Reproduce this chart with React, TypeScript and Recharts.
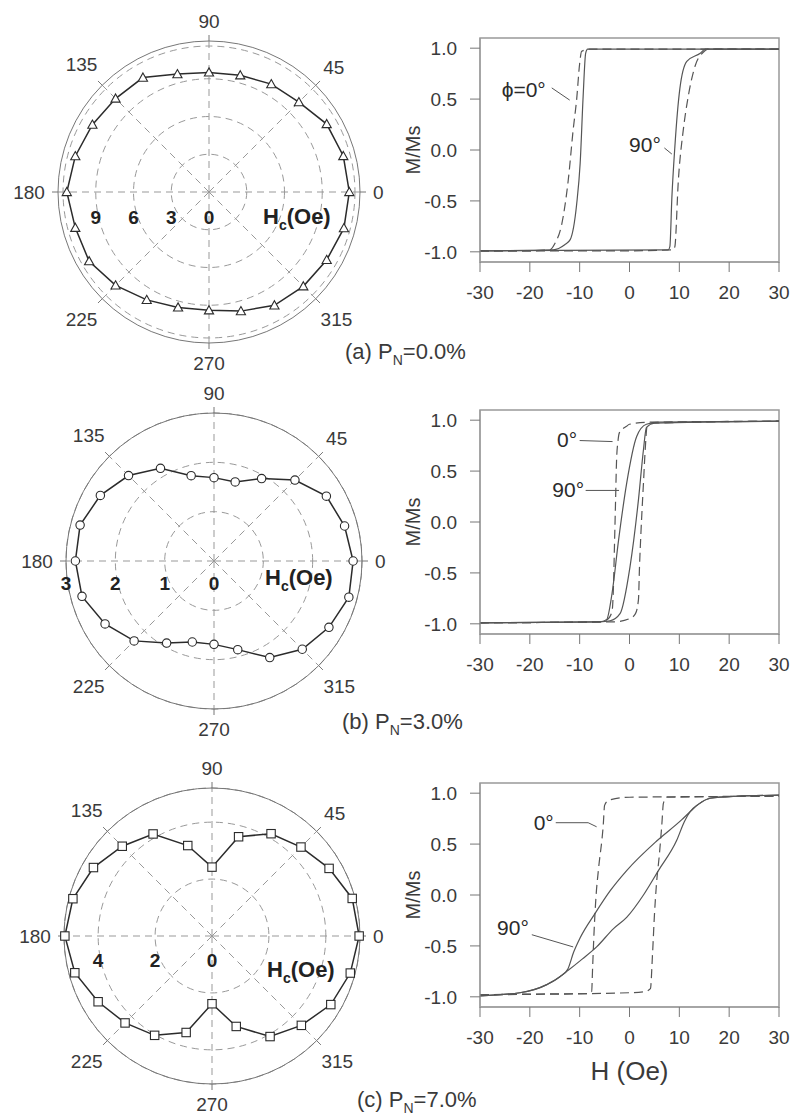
import React from "react";
import {
  RadarChart,
  Radar,
  PolarGrid,
  PolarAngleAxis,
  PolarRadiusAxis,
  LineChart,
  Line,
  XAxis,
  YAxis,
  ReferenceArea,
  ReferenceLine,
  ReferenceDot,
} from "recharts";

const FONT = '"Liberation Sans", Arial, Helvetica, sans-serif';
const INK = "#3a3a3a";

// field angle (deg) for the polar Hc plots
const ANGLES = [0, 15, 30, 45, 60, 75, 90, 105, 120, 135, 150, 165, 180, 195, 210, 225, 240, 255, 270, 285, 300, 315, 330, 345];
const ANGLE_TICKS = [0, 45, 90, 135, 180, 225, 270, 315];

// Hc (Oe)
const HC_A = [11.15, 11.05, 10.8, 10.1, 9.9, 9.6, 9.5, 9.7, 10.5, 10.5, 10.7, 11.0, 11.3, 11.0, 11.0, 10.5, 9.9, 9.5, 9.4, 9.8, 10.4, 10.6, 10.8, 11.1];
const HC_B = [2.82, 2.74, 2.63, 2.32, 1.93, 1.66, 1.69, 1.79, 2.17, 2.45, 2.66, 2.81, 2.81, 2.77, 2.55, 2.29, 1.92, 1.7, 1.69, 1.86, 2.26, 2.53, 2.69, 2.83];
const HC_C = [5.17, 5.1, 4.75, 4.42, 4.15, 3.61, 2.42, 3.29, 4.14, 4.46, 4.81, 5.06, 5.17, 4.99, 4.62, 4.32, 4.03, 3.51, 2.38, 3.29, 4.08, 4.44, 4.82, 5.03];

const RAD_TICKS_A = [0, 3, 6, 9, 11.6];
const RAD_LABELS_A = [0, 3, 6, 9];
const RAD_TICKS_B = [0, 1, 2, 3];
const RAD_LABELS_B = [0, 1, 2, 3];
const RAD_TICKS_C = [0, 2, 4, 5.2];
const RAD_LABELS_C = [0, 2, 4];

const H_TICKS = [-30, -20, -10, 0, 10, 20, 30];
const M_TICKS = [-1, -0.5, 0, 0.5, 1];

// hysteresis branches, [H (Oe), M/Ms]
const A0_DOWN: [number, number][] = [[-30, -0.99], [-20, -0.99], [-16, -0.98], [-15, -0.92], [-13.6, -0.73], [-12.3, -0.3], [-11.3, 0.2], [-10.6, 0.5], [-10.0, 0.85], [-9.6, 0.97], [-8, 0.99], [0, 0.99], [30, 0.99]];
const A0_UP: [number, number][] = [[-30, -0.99], [0, -0.99], [8.8, -0.98], [9.1, -0.95], [9.8, -0.3], [10.8, 0.2], [11.8, 0.53], [13.2, 0.83], [14.8, 0.96], [15.8, 0.99], [30, 0.99]];
const A90_DOWN: [number, number][] = [[-30, -0.99], [-15.3, -0.98], [-13, -0.93], [-11.9, -0.88], [-10.6, -0.53], [-9.9, -0.13], [-9.3, 0.53], [-8.8, 0.95], [-8.4, 0.99], [30, 0.99]];
const A90_UP: [number, number][] = [[-30, -0.99], [7.8, -0.98], [8.1, -0.95], [8.5, -0.47], [9.1, 0.03], [10.1, 0.6], [11.5, 0.87], [14.2, 0.95], [15.2, 0.99], [30, 0.99]];

const B0_DOWN: [number, number][] = [[-30, -0.99], [-6, -0.98], [-4.5, -0.96], [-3.5, -0.88], [-3.2, -0.6], [-3.0, -0.2], [-2.8, 0.2], [-2.6, 0.6], [-2.3, 0.8], [-2.0, 0.88], [-0.6, 0.94], [0, 0.96], [4, 0.98], [30, 0.99]];
const B0_UP: [number, number][] = [[-30, -0.99], [-3, -0.98], [0, -0.95], [1.2, -0.9], [1.8, -0.76], [2.0, -0.45], [2.3, -0.1], [2.8, 0.38], [3.2, 0.75], [3.5, 0.93], [4.5, 0.97], [30, 0.99]];
const B90_DOWN: [number, number][] = [[-30, -0.99], [-6, -0.98], [-4.6, -0.96], [-3.5, -0.7], [-2.2, -0.18], [-0.57, 0.38], [1.44, 0.84], [3.4, 0.96], [6, 0.98], [30, 0.99]];
const B90_UP: [number, number][] = [[-30, -0.99], [-6, -0.98], [-3.9, -0.97], [-1.9, -0.9], [0.1, -0.44], [1.8, 0.22], [2.8, 0.71], [3.4, 0.93], [5, 0.97], [30, 0.99]];

const C0_DOWN: [number, number][] = [[-30, -0.98], [-10, -0.97], [-8.5, -0.97], [-7.6, -0.95], [-7.4, -0.71], [-7.1, -0.35], [-6.7, 0], [-6.25, 0.24], [-5.25, 0.7], [-5.0, 0.88], [-4.2, 0.93], [0, 0.96], [30, 0.97]];
const C0_UP: [number, number][] = [[-30, -0.98], [0, -0.96], [3, -0.95], [4.2, -0.92], [4.6, -0.6], [5.0, -0.2], [5.4, 0.1], [6.0, 0.4], [6.5, 0.7], [6.8, 0.9], [7.5, 0.96], [30, 0.97]];
const C90_DOWN: [number, number][] = [[-30, -0.99], [-22, -0.96], [-16.6, -0.88], [-13.9, -0.8], [-12.4, -0.73], [-11.2, -0.56], [-9.9, -0.42], [-6.9, -0.18], [-3.9, 0.04], [-0.57, 0.24], [5.45, 0.53], [10.5, 0.74], [12.2, 0.82], [13.8, 0.89], [16.2, 0.95], [21.5, 0.97], [30, 0.98]];
const C90_UP: [number, number][] = [[-30, -0.99], [-22, -0.96], [-16.6, -0.88], [-13.9, -0.8], [-12.3, -0.74], [-9.5, -0.63], [-6.6, -0.51], [-3.2, -0.33], [-0.57, -0.22], [2.8, 0], [5.8, 0.24], [9.5, 0.54], [11.0, 0.72], [12.2, 0.82], [13.8, 0.89], [16.2, 0.95], [21.5, 0.97], [30, 0.98]];

type Marker = "tri" | "circle" | "square";

const dotFor = (kind: Marker) => (p: any) => {
  const { cx, cy, index } = p;
  const common = { fill: "#fff", stroke: "#2b2b2b", strokeWidth: 1.1 };
  if (kind === "circle") return <circle key={index} cx={cx} cy={cy} r={4.2} {...common} />;
  if (kind === "square") return <rect key={index} x={cx - 4.2} y={cy - 4.2} width={8.4} height={8.4} {...common} />;
  return <path key={index} d={`M${cx},${cy - 4.6}L${cx + 4.6},${cy + 3.6}L${cx - 4.6},${cy + 3.6}Z`} {...common} />;
};

const angleTick = (p: any) => {
  const v = p.payload.value;
  if (v >= 360) return <g />;
  const a = (p.payload.coordinate * Math.PI) / 180;
  const c = Math.cos(a);
  const s = Math.sin(a);
  const label = String(v);
  const d = 7 + label.length * 5.3 * Math.abs(c) + 7 * Math.abs(s);
  return (
    <text x={p.x + d * c} y={p.y - d * s} textAnchor="middle" dominantBaseline="central" fontSize={19} fill={INK}>
      {label}
    </text>
  );
};

const radiusTick = (labels: number[], dy: number) => (p: any) => {
  const v = p.payload.value;
  if (!labels.includes(v)) return <g />;
  return (
    <text x={p.x} y={p.y + dy} textAnchor="middle" dominantBaseline="central" fontSize={19} fontWeight="bold" fill="#222">
      {v}
    </text>
  );
};

interface PolarProps {
  top: number;
  cx: number;
  cy: number;
  R: number;
  hc: number[];
  max: number;
  rTicks: number[];
  rLabels: number[];
  labelDy: number;
  marker: Marker;
}

function PolarPanel({ top, cx, cy, R, hc, max, rTicks, rLabels, labelDy, marker }: PolarProps) {
  const rows = ANGLES.map((a, i) => ({ angle: a, hc: hc[i] }));
  return (
    <div style={{ position: "absolute", left: 0, top, width: 400, height: 372 }}>
      <RadarChart
        width={400}
        height={372}
        data={rows}
        cx={cx}
        cy={cy}
        outerRadius={R}
        startAngle={0}
        endAngle={360}
        margin={{ top: 0, right: 0, bottom: 0, left: 0 }}
      >
        <PolarGrid gridType="circle" stroke="#999" strokeDasharray="7 5" />
        <PolarAngleAxis
          dataKey="angle"
          type="number"
          domain={[0, 360]}
          ticks={ANGLE_TICKS}
          axisLineType="circle"
          axisLine={{ stroke: "#777" }}
          tickLine={{ stroke: "#777" }}
          tickSize={6}
          tick={angleTick}
        />
        <PolarRadiusAxis
          angle={180}
          type="number"
          domain={[0, max]}
          ticks={rTicks}
          axisLine={false}
          tickLine={false}
          tick={radiusTick(rLabels, labelDy)}
        />
        <Radar
          dataKey="hc"
          stroke="#2b2b2b"
          strokeWidth={1.5}
          fill="none"
          fillOpacity={0}
          dot={dotFor(marker)}
          isAnimationActive={false}
        />
      </RadarChart>
    </div>
  );
}

interface Note {
  text: string;
  at: [number, number];
  lines: [number, number, number, number][];
}

interface LoopProps {
  top: number;
  dashed: [number, number][][];
  solid: [number, number][][];
  notes: Note[];
  xTitle?: boolean;
}

const toRows = (pts: [number, number][]) => pts.map(([h, m]) => ({ h, m }));

function LoopPanel({ top, dashed, solid, notes, xTitle }: LoopProps) {
  const height = xTitle ? 345 : 320;
  return (
    <div style={{ position: "absolute", left: 400, top, width: 393, height }}>
      <LineChart
        width={393}
        height={height}
        margin={{ top: 38, right: 14, bottom: xTitle ? 8 : 18, left: 0 }}
      >
        <XAxis
          dataKey="h"
          type="number"
          domain={[-30, 30]}
          ticks={H_TICKS}
          height={xTitle ? 75 : 40}
          tickSize={10}
          tickMargin={14}
          axisLine={{ stroke: "#999" }}
          tickLine={{ stroke: "#777" }}
          tick={{ fontSize: 19, fill: INK }}
          label={
            xTitle
              ? { value: "H (Oe)", position: "insideBottom", offset: 2, style: { fontSize: 26, fill: INK } }
              : undefined
          }
        />
        <YAxis
          type="number"
          domain={[-1.1, 1.1]}
          ticks={M_TICKS}
          tickFormatter={(v: number) => v.toFixed(1)}
          width={80}
          tickSize={10}
          tickMargin={13}
          axisLine={{ stroke: "#999" }}
          tickLine={{ stroke: "#777" }}
          tick={{ fontSize: 19, fill: INK }}
          label={{
            value: "M/Ms",
            angle: -90,
            position: "insideLeft",
            offset: 13,
            style: { fontSize: 20, fill: INK, textAnchor: "middle" },
          }}
        />
        <ReferenceArea x1={-30} x2={30} y1={-1.1} y2={1.1} fill="none" stroke="#999" strokeWidth={1.5} />
        {dashed.map((b, i) => (
          <Line
            key={`d${i}`}
            data={toRows(b)}
            dataKey="m"
            type="monotone"
            stroke="#555"
            strokeWidth={1.2}
            strokeDasharray="9 5"
            dot={false}
            isAnimationActive={false}
          />
        ))}
        {solid.map((b, i) => (
          <Line
            key={`s${i}`}
            data={toRows(b)}
            dataKey="m"
            type="monotone"
            stroke="#555"
            strokeWidth={1.2}
            dot={false}
            isAnimationActive={false}
          />
        ))}
        {notes.map((n, i) => (
          <React.Fragment key={`n${i}`}>
            {n.lines.map(([x1, y1, x2, y2], j) => (
              <ReferenceLine
                key={`l${j}`}
                segment={[{ x: x1, y: y1 }, { x: x2, y: y2 }]}
                stroke="#555"
                strokeWidth={1}
              />
            ))}
            <ReferenceDot
              x={n.at[0]}
              y={n.at[1]}
              r={1}
              fill="none"
              stroke="none"
              label={{ value: n.text, position: "left", offset: 3, fontSize: 21, fill: "#2b2b2b" }}
            />
          </React.Fragment>
        ))}
      </LineChart>
    </div>
  );
}

const Caption = ({ left, y, tag, pct }: { left: number; y: number; tag: string; pct: string }) => (
  <div style={{ position: "absolute", left, top: y - 13, fontSize: 22, lineHeight: "26px", color: INK, whiteSpace: "nowrap" }}>
    ({tag}) P<span style={{ fontSize: 14, position: "relative", top: 6 }}>N</span>={pct}%
  </div>
);

const HcLabel = ({ left, y }: { left: number; y: number }) => (
  <div style={{ position: "absolute", left, top: y - 13, fontSize: 22, lineHeight: "26px", fontWeight: "bold", color: "#222", whiteSpace: "nowrap" }}>
    H<span style={{ fontSize: 14, position: "relative", top: 6 }}>c</span>(Oe)
  </div>
);

export default function App() {
  return (
    <div style={{ position: "absolute", left: 0, top: 0, width: 793, height: 1118, background: "#fff", fontFamily: FONT }}>
      <PolarPanel top={0} cx={209} cy={192} R={151} hc={HC_A} max={11.6} rTicks={RAD_TICKS_A} rLabels={RAD_LABELS_A} labelDy={25} marker="tri" />
      <PolarPanel top={372} cx={214} cy={189} R={148} hc={HC_B} max={3} rTicks={RAD_TICKS_B} rLabels={RAD_LABELS_B} labelDy={22} marker="circle" />
      <PolarPanel top={745} cx={212} cy={191} R={148} hc={HC_C} max={5.2} rTicks={RAD_TICKS_C} rLabels={RAD_LABELS_C} labelDy={24} marker="square" />

      <HcLabel left={263} y={217} />
      <HcLabel left={265} y={578} />
      <HcLabel left={267} y={970} />

      <LoopPanel
        top={0}
        dashed={[A0_DOWN, A0_UP]}
        solid={[A90_DOWN, A90_UP]}
        notes={[
          { text: "ϕ=0°", at: [-16.0, 0.59], lines: [[-15.6, 0.61, -12.0, 0.49]] },
          { text: "90°", at: [7.1, 0.05], lines: [[7.0, 0.02, 8.5, -0.04]] },
        ]}
      />
      <LoopPanel
        top={372}
        dashed={[B0_DOWN, B0_UP]}
        solid={[B90_DOWN, B90_UP]}
        notes={[
          { text: "0°", at: [-9.7, 0.805], lines: [[-10.0, 0.8, -3.4, 0.79]] },
          { text: "90°", at: [-8.3, 0.314], lines: [[-8.8, 0.31, -2.1, 0.31]] },
        ]}
      />
      <LoopPanel
        top={745}
        dashed={[C0_DOWN, C0_UP]}
        solid={[C90_DOWN, C90_UP]}
        xTitle
        notes={[
          { text: "0°", at: [-14.4, 0.707], lines: [[-14.8, 0.71, -8.3, 0.71], [-8.3, 0.71, -6.6, 0.67]] },
          { text: "90°", at: [-19.4, -0.32], lines: [[-19.6, -0.39, -11.3, -0.51]] },
        ]}
      />

      <Caption left={345} y={352} tag="a" pct="0.0" />
      <Caption left={342} y={722} tag="b" pct="3.0" />
      <Caption left={357} y={1100} tag="c" pct="7.0" />
    </div>
  );
}
